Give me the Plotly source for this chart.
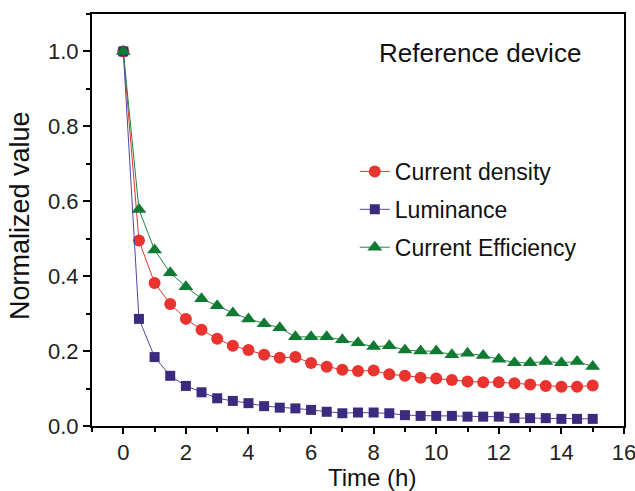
import plotly.graph_objects as go

time_h = [0, 0.5, 1, 1.5, 2, 2.5, 3, 3.5, 4, 4.5, 5, 5.5, 6, 6.5, 7, 7.5,
          8, 8.5, 9, 9.5, 10, 10.5, 11, 11.5, 12, 12.5, 13, 13.5, 14, 14.5, 15]

current_density = [1.0, 0.495, 0.382, 0.326, 0.286, 0.257, 0.233, 0.214, 0.203, 0.19,
                   0.182, 0.184, 0.168, 0.158, 0.15, 0.147, 0.148, 0.138, 0.134, 0.129,
                   0.127, 0.123, 0.119, 0.117, 0.117, 0.114, 0.111, 0.107, 0.105, 0.105, 0.108]

luminance = [1.0, 0.286, 0.184, 0.134, 0.107, 0.09, 0.074, 0.067, 0.061, 0.053,
             0.049, 0.047, 0.043, 0.038, 0.034, 0.036, 0.036, 0.034, 0.029, 0.027,
             0.027, 0.027, 0.025, 0.025, 0.025, 0.021, 0.021, 0.021, 0.019, 0.019, 0.019]

current_efficiency = [1.0, 0.578, 0.47, 0.409, 0.372, 0.34, 0.321, 0.302, 0.286, 0.273,
                      0.262, 0.238, 0.238, 0.238, 0.23, 0.222, 0.212, 0.214, 0.203, 0.2,
                      0.2, 0.19, 0.194, 0.188, 0.178, 0.169, 0.169, 0.172, 0.169, 0.172, 0.159]

series_names = ["Current density", "Luminance", "Current Efficiency"]
x_ticks = [0, 2, 4, 6, 8, 10, 12, 14, 16]
y_ticks = [0.0, 0.2, 0.4, 0.6, 0.8, 1.0]

FONT = "Liberation Sans, Arial, sans-serif"

fig = go.Figure()
fig.add_trace(go.Scatter(
    x=time_h, y=current_density, name=series_names[0], mode="lines+markers",
    legendgroup="a",
    line=dict(color="#e8332f", width=1),
    marker=dict(symbol="circle", size=12, color="#e8332f")))
fig.add_trace(go.Scatter(
    x=time_h, y=luminance, name=series_names[1], mode="lines+markers",
    legendgroup="b",
    line=dict(color="#5546a0", width=1),
    marker=dict(symbol="square", size=10, color="#3b2a7e")))
fig.add_trace(go.Scatter(
    x=time_h, y=current_efficiency, name=series_names[2], mode="lines+markers",
    legendgroup="c",
    line=dict(color="#1f8540", width=1),
    marker=dict(symbol="triangle-up", size=13, color="#107a33")))

axis_common = dict(
    showline=True, linecolor="black", linewidth=2, mirror=True,
    ticks="outside", tickwidth=1.5, tickcolor="black",
    showgrid=False, zeroline=False, automargin=False,
    ticklabeloverflow="allow",
    tickfont=dict(family=FONT, size=22, color="#222"),
)

fig.update_layout(
    width=635, height=491,
    margin=dict(l=92, r=11, t=14, b=65),
    paper_bgcolor="white", plot_bgcolor="white",
    font=dict(family=FONT, color="#111"),
    xaxis=dict(range=[-1, 16], tickvals=x_ticks, ticklen=6,
               minor=dict(dtick=1, tick0=-1, ticks="outside", ticklen=4,
                          tickwidth=1.5, tickcolor="black"),
               **axis_common),
    yaxis=dict(range=[0, 1.1], tickvals=y_ticks, tickformat=".1f", ticklen=7,
               minor=dict(dtick=0.1, tick0=0, ticks="outside", ticklen=4,
                          tickwidth=1.5, tickcolor="black"),
               **axis_common),
    legend=dict(x=0.494, y=0.67, xanchor="left", yanchor="top",
                traceorder="grouped", tracegroupgap=5,
                bgcolor="rgba(0,0,0,0)",
                font=dict(family=FONT, size=23, color="#111")),
    annotations=[
        dict(text="Reference device", xref="paper", yref="paper",
             x=0.536, y=0.905, xanchor="left", yanchor="middle",
             showarrow=False, font=dict(family=FONT, size=26, color="#111")),
        dict(text="Time (h)", xref="paper", yref="paper",
             x=0.526, y=-0.124, xanchor="center", yanchor="middle",
             showarrow=False, font=dict(family=FONT, size=24, color="#111")),
        dict(text="Normalized value", xref="paper", yref="paper",
             x=-0.135, y=0.51, xanchor="center", yanchor="middle", textangle=-90,
             showarrow=False, font=dict(family=FONT, size=27, color="#111")),
    ],
)

fig.write_html("out.html")
